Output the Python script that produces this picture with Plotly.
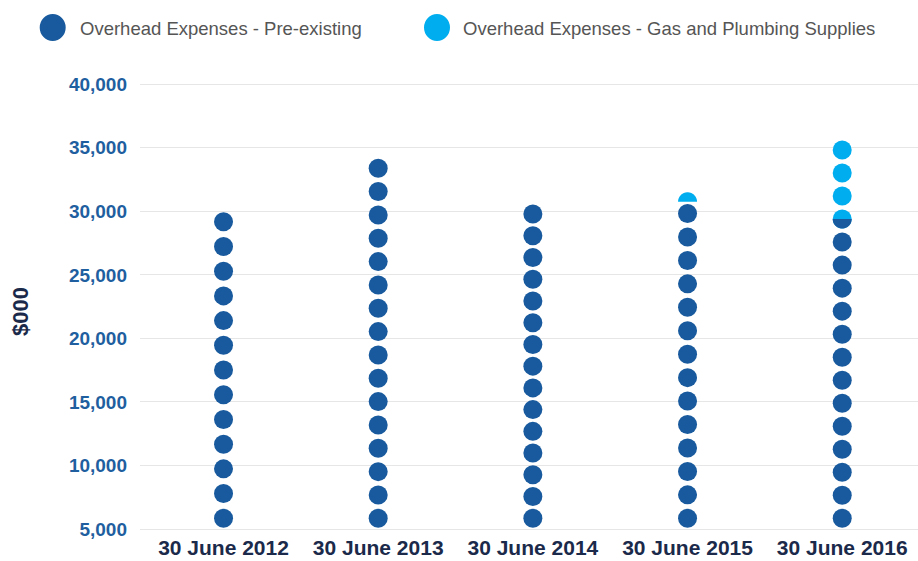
import math
import plotly.graph_objects as go

# ---------------- data ($000) ----------------
categories = ["30 June 2012", "30 June 2013", "30 June 2014", "30 June 2015", "30 June 2016"]
pre_existing = [29930, 34140, 30540, 30540, 29450]
gas_plumbing = [0, 0, 0, 960, 6125]
pre_existing_dots = [13, 16, 15, 14, 13.5]
gas_plumbing_dots = [0, 0, 0, 0.5, 3.5]
series_names = ["Overhead Expenses - Pre-existing",
                "Overhead Expenses - Gas and Plumbing Supplies"]
y_ticks = [5000, 10000, 15000, 20000, 25000, 30000, 35000, 40000]

# ---------------- styling / layout constants ----------------
DARK = "#185A9D"
CYAN = "#00AEEF"
COLORS = [DARK, CYAN]
FONT = "Liberation Sans, Arial, sans-serif"
W, H = 918, 561
M_L, M_R, M_T, M_B = 140, 0, 70, 32
PLOT_W = W - M_L - M_R
PLOT_H = H - M_T - M_B
Y_MIN = 5000
PX_TOP_TICK = 84.3                      # pixel row of the 40,000 tick
units_per_px = (y_ticks[-1] - Y_MIN) / ((H - M_B) - PX_TOP_TICK)
Y_MAX = Y_MIN + PLOT_H * units_per_px
X_RANGE = [-0.54, 4.49]
DOT_D = 19
DOT_R_U = DOT_D / 2 * units_per_px      # dot radius in data units
BASE_C = Y_MIN + 10.7 * units_per_px    # centre of the lowest dot


def half_disc(xi, yc, part, color, r=DOT_D / 2, n=40):
    sign = 1 if part == "upper" else -1
    pts = [(r * math.cos(math.pi * j / n), sign * r * math.sin(math.pi * j / n))
           for j in range(n + 1)]
    path = "M " + " L ".join(f"{px:.2f},{py:.2f}" for px, py in pts) + " Z"
    return dict(type="path", xref="x", yref="y", xsizemode="pixel", ysizemode="pixel",
                xanchor=xi, yanchor=yc, path=path, fillcolor=color,
                line=dict(width=0), layer="above")


xs = {0: [], 1: []}
ys = {0: [], 1: []}
shapes = []
for i, cat in enumerate(categories):
    total = pre_existing[i] + gas_plumbing[i]
    n = pre_existing_dots[i] + gas_plumbing_dots[i]
    top_c = total - DOT_R_U
    step = (top_c - BASE_C) / (n - 1)
    split = 2 * pre_existing_dots[i]

    def series_of(h, split=split):
        return 0 if h < split else 1

    for k in range(int(n)):
        yc = BASE_C + k * step
        lo, hi = series_of(2 * k), series_of(2 * k + 1)
        xs[hi].append(cat)
        ys[hi].append(yc)
        if lo != hi:
            shapes.append(half_disc(i, yc, "lower", COLORS[lo]))
    if n % 1:
        yc = BASE_C + (n - 1) * step
        shapes.append(half_disc(i, yc, "upper", COLORS[series_of(int(2 * n) - 1)]))

fig = go.Figure()
for s in (0, 1):
    fig.add_trace(go.Scatter(
        x=xs[s], y=ys[s], mode="markers", name=series_names[s],
        marker=dict(size=DOT_D, color=COLORS[s], line=dict(width=0)),
        showlegend=False, cliponaxis=False))


def px_x(p):
    return (p - M_L) / PLOT_W


def px_y(p):
    return ((H - M_B) - p) / PLOT_H


# custom legend (large circles)
legend_items = [(52.7, 78), (437, 461)]
annotations = []
for s, (cx, tx) in enumerate(legend_items):
    shapes.append(dict(type="circle", xref="paper", yref="paper",
                       xsizemode="pixel", ysizemode="pixel",
                       xanchor=px_x(cx), yanchor=px_y(27.5),
                       x0=-13, x1=13, y0=-13.5, y1=13.5,
                       fillcolor=COLORS[s], line=dict(width=0)))
    annotations.append(dict(xref="paper", yref="paper", x=px_x(tx), y=px_y(28),
                            xanchor="left", yanchor="middle", showarrow=False,
                            text=series_names[s],
                            font=dict(family=FONT, size=18.5, color="#555555")))

annotations.append(dict(xref="paper", yref="paper", x=px_x(20), y=px_y(312),
                        xanchor="center", yanchor="middle", showarrow=False,
                        text="$000", textangle=-90,
                        font=dict(family=FONT, size=22, color="#1B2A4A", weight="bold")))

fig.update_layout(
    width=W, height=H,
    margin=dict(l=M_L, r=M_R, t=M_T, b=M_B, pad=0, autoexpand=False),
    paper_bgcolor="white", plot_bgcolor="white",
    showlegend=False,
    shapes=shapes, annotations=annotations,
    xaxis=dict(type="category", categoryorder="array", categoryarray=categories,
               range=X_RANGE, showgrid=False, zeroline=False, automargin=False,
               showline=True, linecolor="#E6E6E6", linewidth=1,
               ticks="", ticklabelstandoff=0,
               tickfont=dict(family=FONT, size=21, color="#1B2A4A", weight="bold")),
    yaxis=dict(range=[Y_MIN, Y_MAX], tickvals=y_ticks, tickformat=",d",
               showgrid=True, gridcolor="#E6E6E6", gridwidth=1, automargin=False,
               zeroline=False, showline=False, ticks="", ticklabelstandoff=12,
               tickfont=dict(family=FONT, size=19, color="#1F5FA0", weight="bold")),
)

fig.write_html("out.html")
